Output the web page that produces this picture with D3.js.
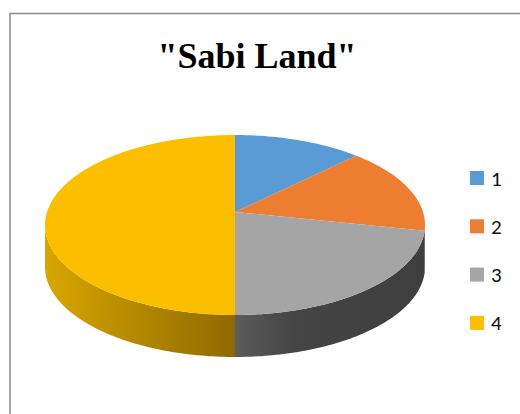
<!DOCTYPE html>
<html>
<head>
<meta charset="utf-8">
<script src="https://cdn.jsdelivr.net/npm/d3@7"></script>
<style>
  body { margin: 0; background: #fff; }
  svg { display: block; }
</style>
</head>
<body>
<svg id="chart" width="520" height="414"></svg>
<script>
"use strict";

// chart data
let title = "\"Sabi Land\"";
let categories = ["1", "2", "3", "4"];
let values = [11, 15, 24, 50];

let topColors = ["#5b9bd5", "#ed7d31", "#a5a5a5", "#fbbf00"];
let sideStops = [
  [["0%", "#3e6d96"], ["100%", "#2f5577"]],
  [["0%", "#a55721"], ["100%", "#8a481b"]],
  [["0%", "#5c5c5c"], ["30%", "#454545"], ["100%", "#3e3e3e"]],
  [["0%", "#d8a600"], ["100%", "#8e6900"]]
];

// rim ellipse, plus the apex which sits higher because of perspective
const cx = 235, cy = 225, rx = 190, ry = 90, depth = 42, apexY = 212;

let svg = d3.select("#chart");

// frame
svg.append("rect")
  .attr("x", 10).attr("y", 13.5)
  .attr("width", 560).attr("height", 500)
  .attr("fill", "none")
  .attr("stroke", "#8c8c8c")
  .attr("stroke-width", 1.5);

svg.append("text")
  .attr("x", 257).attr("y", 68)
  .attr("text-anchor", "middle")
  .style("font-family", "'Liberation Serif', 'Times New Roman', serif")
  .style("font-weight", "bold")
  .style("font-size", "36px")
  .text(title);

let color = d3.scaleOrdinal().domain(categories).range(topColors);

let pie = d3.pie().sort(null).value(d => d.value).startAngle(0).endAngle(2 * Math.PI);
let arcs = pie(categories.map((c, i) => ({ name: c, value: values[i] })));

function visible(a) {
  return [Math.max(a.startAngle, Math.PI / 2), Math.min(a.endAngle, 3 * Math.PI / 2)];
}

// gradients for the side walls
let defs = svg.append("defs");
arcs.forEach((a, i) => {
  let [lo, hi] = visible(a);
  if (hi <= lo) return;
  let xs = [cx + rx * Math.sin(lo), cx + rx * Math.sin(hi)];
  let g = defs.append("linearGradient")
    .attr("id", "side" + i)
    .attr("gradientUnits", "userSpaceOnUse")
    .attr("x1", d3.min(xs)).attr("x2", d3.max(xs))
    .attr("y1", 0).attr("y2", 0);
  sideStops[i].forEach(s => g.append("stop").attr("offset", s[0]).attr("stop-color", s[1]));
});

function pt(a, dy) {
  return [cx + rx * Math.sin(a), cy - ry * Math.cos(a) + dy];
}
function samples(lo, hi) {
  let n = Math.max(2, Math.ceil((hi - lo) / 0.02));
  return d3.range(0, n + 1).map(k => lo + (hi - lo) * k / n);
}

let line = d3.line();

// side walls (only the front half is visible)
svg.append("g").selectAll("path")
  .data(arcs.filter(a => visible(a)[1] > visible(a)[0]))
  .enter().append("path")
  .attr("d", a => {
    let [lo, hi] = visible(a);
    let steps = samples(lo, hi);
    let pts = steps.map(t => pt(t, 0)).concat(steps.slice().reverse().map(t => pt(t, depth)));
    return line(pts) + "Z";
  })
  .attr("fill", a => "url(#side" + a.index + ")");

// top surface
svg.append("g").selectAll("path")
  .data(arcs)
  .enter().append("path")
  .attr("d", a => line([[cx, apexY]].concat(samples(a.startAngle, a.endAngle).map(t => pt(t, 0)))) + "Z")
  .attr("fill", d => color(d.data.name));

// legend
let legend = svg.append("g").selectAll("g")
  .data(categories)
  .enter().append("g")
  .attr("transform", (d, i) => `translate(470,${171 + i * 48.3})`);

legend.append("rect")
  .attr("width", 14).attr("height", 14)
  .attr("fill", d => color(d));

legend.append("text")
  .attr("x", 21).attr("y", 14.5)
  .style("font-family", "Carlito, Calibri, Lato, sans-serif")
  .style("font-size", "21px")
  .attr("fill", "#111")
  .text(d => d);
</script>
</body>
</html>
